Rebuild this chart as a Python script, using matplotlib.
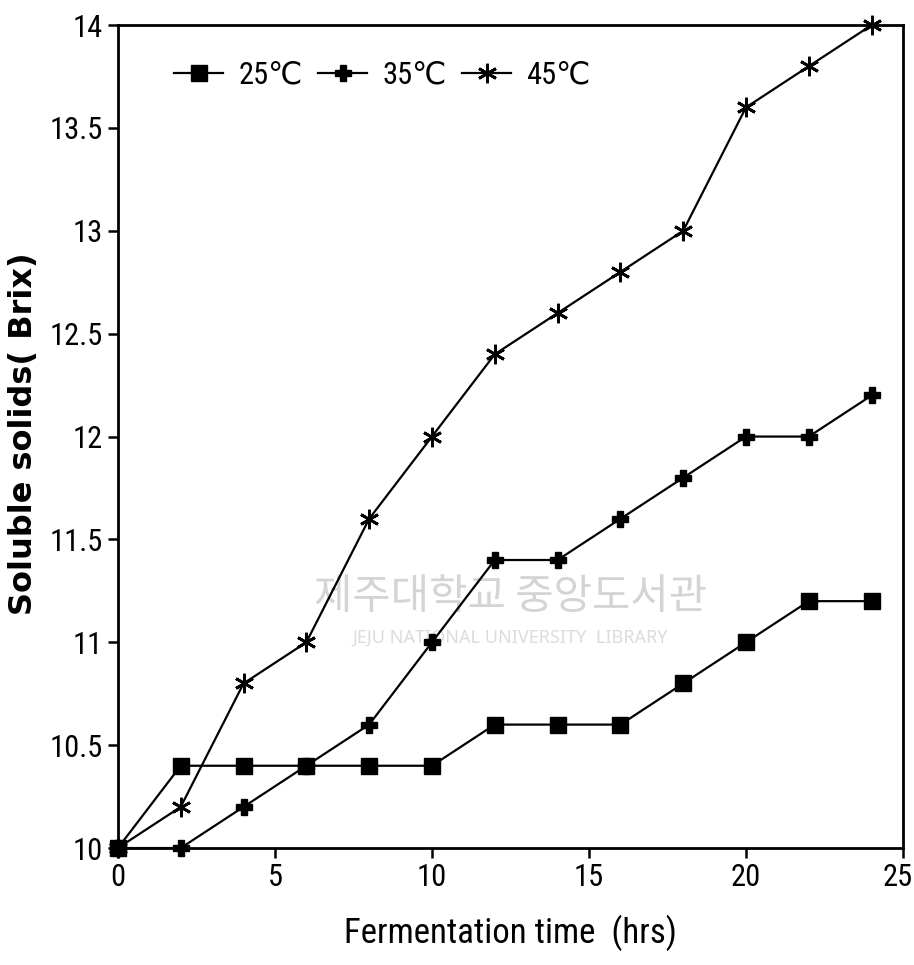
import matplotlib
matplotlib.use("Agg")
import matplotlib.pyplot as plt
from matplotlib import font_manager
from matplotlib.transforms import ScaledTranslation

# pick a condensed/narrow font if one is installed
cands = []
for f in font_manager.fontManager.ttflist:
    n = f.name.lower()
    if 'narrow' in n or 'condensed' in n:
        cands.append((f.name, None))
    elif str(f.stretch) in ('condensed', 'semi-condensed', 'extra-condensed', '600', '500') or \
            (isinstance(f.stretch, int) and f.stretch < 500):
        cands.append((f.name, 'condensed'))
narrow, stretch = ('Liberation Sans', 'normal')
pref = ['Liberation Sans Narrow', 'Roboto Condensed', 'Open Sans Condensed', 'DejaVu Sans']
for p in pref:
    hit = [c for c in cands if c[0] == p]
    if hit:
        narrow, stretch = hit[0][0], (hit[0][1] or 'normal')
        break
else:
    if cands:
        narrow, stretch = cands[0][0], (cands[0][1] or 'normal')
condensed_found = narrow != 'Liberation Sans'

hours = [0, 2, 4, 6, 8, 10, 12, 14, 16, 18, 20, 22, 24]
brix_25 = [10.0, 10.4, 10.4, 10.4, 10.4, 10.4, 10.6, 10.6, 10.6, 10.8, 11.0, 11.2, 11.2]
brix_35 = [10.0, 10.0, 10.2, 10.4, 10.6, 11.0, 11.4, 11.4, 11.6, 11.8, 12.0, 12.0, 12.2]
brix_45 = [10.0, 10.2, 10.8, 11.0, 11.6, 12.0, 12.4, 12.6, 12.8, 13.0, 13.6, 13.8, 14.0]
labels = ['25℃', '35℃', '45℃']
x_ticks = [0, 5, 10, 15, 20, 25]
y_ticks = [10, 10.5, 11, 11.5, 12, 12.5, 13, 13.5, 14]
y_tick_labels = ['10', '10.5', '11', '11.5', '12', '12.5', '13', '13.5', '14']

tick_size = 22 if condensed_found else 18
fam = [narrow, 'DejaVu Sans']

fig = plt.figure(figsize=(9.14, 9.65), dpi=100)
ax = fig.add_axes([0.129, 0.1212, 0.859, 0.8528])

# watermark
ax.text(0.5, 0.305, '제주대학교 중앙도서관', transform=ax.transAxes, ha='center', va='center',
        fontsize=30, color='#d4d4d4', family=['Noto Sans CJK KR', 'DejaVu Sans'], zorder=0)
ax.text(0.5, 0.255, 'JEJU NATIONAL UNIVERSITY  LIBRARY', transform=ax.transAxes, ha='center',
        va='center', fontsize=13, color='#dcdcdc', family=['Noto Sans', 'DejaVu Sans'], zorder=0)

ax.plot(hours, brix_25, color='black', lw=1.6, marker='s', ms=11, mfc='black', mec='black',
        label=labels[0], clip_on=False, zorder=3)
ax.plot(hours, brix_35, color='black', lw=1.6, marker='P', ms=11, mfc='black', mec='black',
        label=labels[1], clip_on=False, zorder=3)
ax.plot(hours, brix_45, color='black', lw=1.6, marker=(6, 2, 0), ms=14, mew=2, mec='black',
        label=labels[2], clip_on=False, zorder=3)

ax.set_xlim(0, 25)
ax.set_ylim(10, 14)
ax.set_xticks(x_ticks)
ax.set_yticks(y_ticks)
ax.set_yticklabels(y_tick_labels)
ax.tick_params(direction='out', length=7, width=1.8, pad=4)
for lab in ax.get_xticklabels() + ax.get_yticklabels():
    lab.set_family(fam)
    lab.set_fontstretch(stretch)
    lab.set_fontsize(tick_size)
last = ax.get_xticklabels()[-1]
last.set_transform(last.get_transform() + ScaledTranslation(-5 / 100, 0, fig.dpi_scale_trans))
for s in ax.spines.values():
    s.set_linewidth(2)

ax.set_xlabel('Fermentation time  (hrs)', family=fam, fontstretch=stretch,
              fontsize=25 if condensed_found else 22, labelpad=16)
fig.text(24 / 914, 1 - 434 / 965, 'Soluble solids( Brix)', family=['DejaVu Sans'],
         fontsize=23, fontweight='bold', rotation=90, ha='center', va='center')

leg = ax.legend(loc='center left', bbox_to_anchor=(0.072, 0.939), ncol=3, frameon=False,
                prop={'family': fam, 'size': 22 if condensed_found else 19, 'stretch': stretch},
                handlelength=1.6, columnspacing=0.5, handletextpad=0.5, borderaxespad=0,
                borderpad=0)

fig.savefig('out.png', dpi=100)
